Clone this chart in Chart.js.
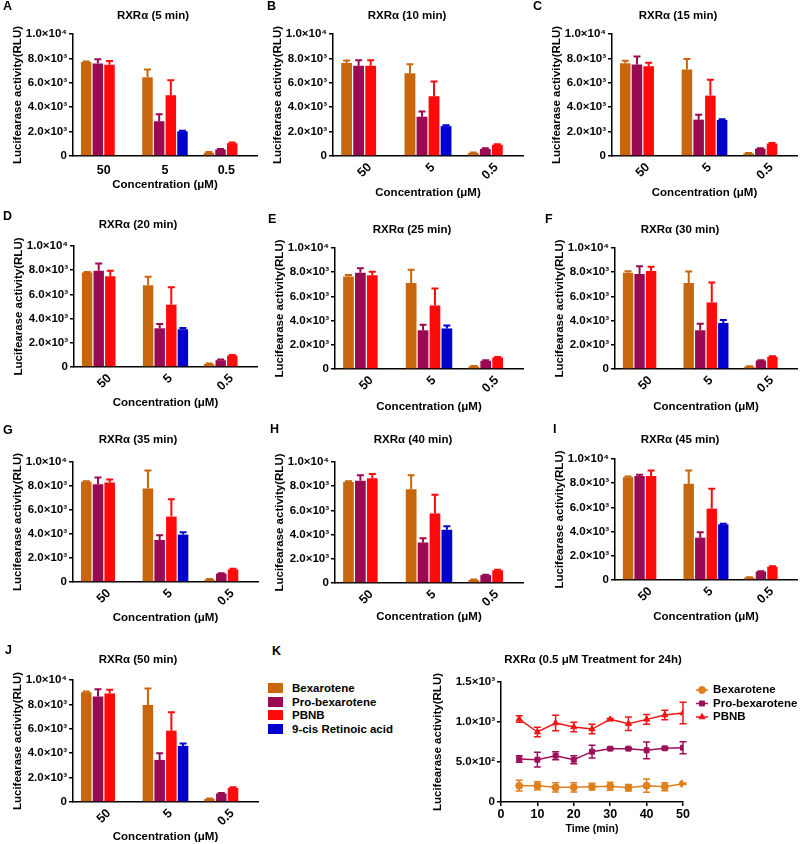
<!DOCTYPE html>
<html>
<head>
<meta charset="utf-8">
<script src="https://cdn.jsdelivr.net/npm/chart.js@4.4.0/dist/chart.umd.min.js"></script>
<style>
  body { margin: 0; background: #fff; width: 800px; height: 844px; position: relative; overflow: hidden; }
  canvas { position: absolute; }
  #barLegend { position: absolute; left: 268px; top: 682px; font: bold 11.5px "Liberation Sans", Arial, sans-serif; color: #000; }
  #barLegend div { height: 13.7px; line-height: 13.7px; white-space: nowrap; }
  #barLegend span { display: inline-block; width: 15px; height: 10px; margin-right: 9px; vertical-align: -1px; }
  #letterK { position: absolute; left: 272px; top: 644px; font: bold 12.5px "Liberation Sans", Arial, sans-serif; }
</style>
</head>
<body>
<div id="letterK">K</div>
<div id="barLegend"></div>
<script>
// ---- data ----
const panelLetters = ['A', 'B', 'C', 'D', 'E', 'F', 'G', 'H', 'I', 'J']
const panelMinutes = [5, 10, 15, 20, 25, 30, 35, 40, 45, 50]
const concentrations = ['50', '5', '0.5']
const seriesNames = ['Bexarotene', 'Pro-bexarotene', 'PBNB', '9-cis Retinoic acid']
const seriesColors = ['#C8660E', '#990A52', '#FF0A0A', '#0000CC']

// one row per panel (5 ... 50 min), columns = 50, 5, 0.5 uM
const bexMean = [
  [7700, 6450, 260], [7620, 6780, 250], [7600, 7100, 220], [7800, 6750, 250], [7650, 7100, 220],
  [7950, 7100, 200], [8350, 7800, 200], [8350, 7750, 250], [8500, 7950, 200], [9000, 7950, 250]
]
const bexErr = [
  [50, 650, 60], [200, 750, 30], [200, 850, 30], [60, 700, 40], [120, 1100, 30],
  [120, 950, 30], [50, 1500, 40], [50, 1150, 30], [50, 1100, 30], [50, 1350, 30]
]
const proMean = [
  [7580, 2850, 540], [7400, 3220, 580], [7500, 2980, 600], [7950, 3200, 560], [7950, 3200, 680],
  [7850, 3200, 700], [8150, 3500, 700], [8450, 3350, 650], [8600, 3500, 700], [8650, 3450, 700]
]
const proErr = [
  [350, 580, 40], [450, 430, 50], [650, 400, 40], [600, 350, 50], [380, 450, 40],
  [650, 550, 30], [550, 400, 30], [450, 350, 40], [100, 450, 30], [600, 550, 40]
]
const pbnbMean = [
  [7480, 4980, 1050], [7400, 4900, 920], [7350, 4950, 1020], [7500, 5150, 950], [7750, 5250, 950],
  [8100, 5500, 1020], [8300, 5450, 1050], [8650, 5750, 1050], [8600, 5900, 1100], [8900, 5850, 1150]
]
const pbnbErr = [
  [300, 1230, 50], [450, 1200, 40], [300, 1300, 40], [450, 1450, 40], [280, 1400, 40],
  [350, 1650, 30], [250, 1450, 50], [350, 1550, 40], [450, 1650, 40], [300, 1500, 50]
]
const retMean = [
  [null, 2020, null], [null, 2450, null], [null, 2950, null], [null, 3120, null], [null, 3350, null],
  [null, 3800, null], [null, 3950, null], [null, 4400, null], [null, 4600, null], [null, 4600, null]
]
const retErr = [
  [0, 40, 0], [0, 80, 0], [0, 60, 0], [0, 100, 0], [0, 250, 0],
  [0, 250, 0], [0, 200, 0], [0, 300, 0], [0, 50, 0], [0, 200, 0]
]
const barTickLabels = ['0', '2.0×10³', '4.0×10³', '6.0×10³', '8.0×10³', '1.0×10⁴']

// panel K: 0.5 uM over time
const timeMin = [5, 10, 15, 20, 25, 30, 35, 40, 45, 50]
const kBexMean = [204, 204, 183, 183, 192, 196, 179, 204, 192, 229]
const kBexErr = [67, 50, 58, 58, 42, 50, 40, 83, 50, 10]
const kProMean = [537, 529, 579, 529, 629, 667, 667, 646, 671, 679]
const kProErr = [40, 92, 50, 50, 80, 10, 10, 104, 15, 75]
const kPbnbMean = [1037, 875, 987, 937, 912, 1033, 979, 1033, 1087, 1112]
const kPbnbErr = [40, 60, 96, 60, 60, 10, 85, 60, 60, 135]
const kNames = ['Bexarotene', 'Pro-bexarotene', 'PBNB']
const kColors = ['#E07F1C', '#9E0F5A', '#F21414']
const kPointStyles = ['circle', 'rect', 'triangle']
const lineTickLabels = ['0', '5.0×10²', '1.0×10³', '1.5×10³']

// ---- layout (pixel boxes of each panel) ----
const barBoxes = [
  {x: 0, y: 0, w: 265, h: 205, l: 73, r: 257, t: 34, b: 156, xt: 185, letter: [3, 7], title: [153, 16], rot: 0},
  {x: 265, y: 0, w: 265, h: 205, l: 68, r: 258, t: 34, b: 156, xt: 193, letter: [2, 7], title: [142, 16], rot: 45},
  {x: 530, y: 0, w: 270, h: 205, l: 82, r: 267, t: 34, b: 156, xt: 193, letter: [3, 7], title: [148, 16], rot: 45},
  {x: 0, y: 205, w: 265, h: 210, l: 74, r: 257, t: 41, b: 162, xt: 198, letter: [3, 12], title: [138, 20], rot: 45},
  {x: 265, y: 205, w: 265, h: 210, l: 70, r: 258, t: 43, b: 164, xt: 202, letter: [3, 15], title: [147, 25], rot: 45},
  {x: 530, y: 205, w: 270, h: 210, l: 85, r: 267, t: 43, b: 164, xt: 202, letter: [15, 15], title: [150, 25], rot: 45},
  {x: 0, y: 415, w: 265, h: 210, l: 73, r: 258, t: 47, b: 167, xt: 203, letter: [3, 16], title: [138, 25], rot: 45},
  {x: 265, y: 415, w: 265, h: 210, l: 70, r: 258, t: 47, b: 168, xt: 202, letter: [5, 15], title: [148, 25], rot: 45},
  {x: 530, y: 415, w: 270, h: 210, l: 85, r: 267, t: 44, b: 165, xt: 202, letter: [23, 15], title: [150, 25], rot: 45},
  {x: 0, y: 625, w: 265, h: 219, l: 73, r: 258, t: 55, b: 177, xt: 212, letter: [5, 26], title: [138, 35], rot: 45}
]
const kBox = {x: 420, y: 625, w: 380, h: 219, l: 81, r: 263, t: 57, b: 177, xt: 204, ytx: 18, title: [173, 35]}

const FONT = '"Liberation Sans", Arial, sans-serif'

const makeCanvas = (box) => {
  const c = document.createElement('canvas')
  c.width = box.w
  c.height = box.h
  c.style.left = box.x + 'px'
  c.style.top = box.y + 'px'
  document.body.appendChild(c)
  return c
}

// upper error bars for bars, +/- error bars for the line chart
const errorBars = {
  id: 'errorBars',
  afterDatasetsDraw(chart, args, opts) {
    const ctx = chart.ctx
    const yScale = chart.scales.y
    chart.data.datasets.forEach((ds, di) => {
      const meta = chart.getDatasetMeta(di)
      meta.data.forEach((el, i) => {
        const raw = ds.data[i]
        const v = raw && typeof raw === 'object' ? raw.y : raw
        const e = ds.errors[i]
        if (v == null || !e) return
        const x = el.x
        const top = yScale.getPixelForValue(v + e)
        const bottom = opts.both ? yScale.getPixelForValue(v - e) : yScale.getPixelForValue(v)
        ctx.save()
        ctx.strokeStyle = ds.borderColor || ds.backgroundColor
        ctx.lineWidth = opts.width
        ctx.beginPath()
        ctx.moveTo(x, bottom)
        ctx.lineTo(x, top)
        ctx.moveTo(x - opts.cap, top)
        ctx.lineTo(x + opts.cap, top)
        if (opts.both) {
          ctx.moveTo(x - opts.cap, bottom)
          ctx.lineTo(x + opts.cap, bottom)
        }
        ctx.stroke()
        ctx.restore()
      })
    })
  }
}

const panelText = {
  id: 'panelText',
  afterDraw(chart, args, opts) {
    const ctx = chart.ctx
    ctx.save()
    ctx.fillStyle = '#000'
    ctx.textBaseline = 'middle'
    if (opts.letter) {
      ctx.font = 'bold 12.5px ' + FONT
      ctx.textAlign = 'left'
      ctx.fillText(opts.letter, opts.letterPos[0], opts.letterPos[1])
    }
    ctx.font = 'bold 11.5px ' + FONT
    ctx.textAlign = 'center'
    ctx.fillText(opts.title, opts.titlePos[0], opts.titlePos[1])
    ctx.restore()
  }
}

const axisTitleHalf = 11.5 * 1.2 / 2

const barMeans = [bexMean, proMean, pbnbMean, retMean]
const barErrs = [bexErr, proErr, pbnbErr, retErr]

const generateBarPanel = (idx) => {
  const box = barBoxes[idx]
  const xh = box.xt - box.b + axisTitleHalf
  new Chart(makeCanvas(box), {
    type: 'bar',
    data: {
      labels: concentrations,
      datasets: seriesNames.map((name, s) => ({
        label: name,
        data: barMeans[s][idx],
        errors: barErrs[s][idx],
        backgroundColor: seriesColors[s],
        borderWidth: 0,
        barPercentage: 0.9,
        categoryPercentage: 0.76
      }))
    },
    options: {
      responsive: false,
      animation: false,
      devicePixelRatio: 1,
      layout: {padding: {left: 0, top: box.t, right: box.w - box.r, bottom: Math.max(box.h - box.b - xh, 0)}},
      plugins: {
        legend: {display: false},
        tooltip: {enabled: false},
        errorBars: {cap: 3.5, width: 2, both: false},
        panelText: {
          letter: panelLetters[idx], letterPos: box.letter,
          title: 'RXRα (' + panelMinutes[idx] + ' min)', titlePos: box.title
        }
      },
      scales: {
        x: {
          grid: {display: false, drawTicks: false},
          border: {display: true, color: '#000', width: 1.5},
          ticks: {
            color: '#000', font: {family: FONT, size: 12.5, weight: 'bold'},
            minRotation: box.rot, maxRotation: box.rot, autoSkip: false,
            padding: box.rot ? 4 : 7, labelOffset: box.rot ? 5 : 0
          },
          title: {display: true, text: 'Concentration (μM)', color: '#000', font: {family: FONT, size: 11.5, weight: 'bold'}, padding: 0},
          afterFit: (s) => { s.height = xh }
        },
        y: {
          min: 0,
          max: 10000,
          grid: {drawOnChartArea: false, color: '#000', lineWidth: 1.5, tickLength: 4},
          border: {display: true, color: '#000', width: 1.5},
          ticks: {
            stepSize: 2000, color: '#000', padding: 2,
            font: {family: FONT, size: 11.5, weight: 'bold'},
            callback: (v) => barTickLabels[Math.round(v / 2000)]
          },
          title: {
            display: true, text: 'Lucifearase activity(RLU)', color: '#000',
            font: {family: FONT, size: 11.5, weight: 'bold'},
            padding: {top: box.l - 55 - axisTitleHalf, bottom: 0}
          },
          afterFit: (s) => { s.width = box.l }
        }
      }
    },
    plugins: [errorBars, panelText]
  })
}

panelLetters.forEach((_, i) => generateBarPanel(i))

// legend for the bar panels
const legendDiv = document.getElementById('barLegend')
seriesNames.forEach((name, s) => {
  const row = document.createElement('div')
  const sw = document.createElement('span')
  sw.style.background = seriesColors[s]
  row.appendChild(sw)
  row.appendChild(document.createTextNode(name))
  legendDiv.appendChild(row)
})

// legend drawn beside panel K
const kLegend = {
  id: 'kLegend',
  afterDraw(chart, args, opts) {
    const ctx = chart.ctx
    chart.data.datasets.forEach((ds, i) => {
      const y = opts.y0 + i * opts.dy
      ctx.save()
      ctx.strokeStyle = ds.borderColor
      ctx.fillStyle = ds.backgroundColor
      ctx.lineWidth = 1.5
      ctx.beginPath()
      ctx.moveTo(opts.x0, y)
      ctx.lineTo(opts.x1, y)
      ctx.stroke()
      ctx.lineWidth = 1
      Chart.helpers.drawPoint(ctx, {pointStyle: ds.pointStyle, radius: 3.5, borderWidth: 1}, (opts.x0 + opts.x1) / 2, y)
      ctx.fillStyle = '#000'
      ctx.font = 'bold 11.5px ' + FONT
      ctx.textBaseline = 'middle'
      ctx.textAlign = 'left'
      ctx.fillText(ds.label, opts.textX, y)
      ctx.restore()
    })
  }
}

const kMeans = [kBexMean, kProMean, kPbnbMean]
const kErrs = [kBexErr, kProErr, kPbnbErr]
const kxh = kBox.xt - kBox.b + 10.5 * 1.2 / 2

new Chart(makeCanvas(kBox), {
  type: 'line',
  data: {
    datasets: kNames.map((name, s) => ({
      label: name,
      data: timeMin.map((t, i) => ({x: t, y: kMeans[s][i]})),
      errors: kErrs[s],
      borderColor: kColors[s],
      backgroundColor: kColors[s],
      pointStyle: kPointStyles[s],
      pointRadius: 3.5,
      pointBorderWidth: 1,
      borderWidth: 1.5,
      tension: 0
    }))
  },
  options: {
    responsive: false,
    animation: false,
    devicePixelRatio: 1,
    layout: {padding: {left: 0, top: kBox.t, right: kBox.w - kBox.r, bottom: Math.max(kBox.h - kBox.b - kxh, 0)}},
    plugins: {
      legend: {display: false},
      tooltip: {enabled: false},
      errorBars: {cap: 3.5, width: 1.5, both: true},
      panelText: {title: 'RXRα (0.5 μM Treatment for 24h)', titlePos: kBox.title},
      kLegend: {x0: 276, x1: 288, textX: 293, y0: 65, dy: 13.5}
    },
    scales: {
      x: {
        type: 'linear', min: 0, max: 50,
        grid: {drawOnChartArea: false, color: '#000', lineWidth: 1.5, tickLength: 4},
        border: {display: true, color: '#000', width: 1.5},
        ticks: {stepSize: 10, color: '#000', padding: 1, font: {family: FONT, size: 12.5, weight: 'bold'}},
        title: {display: true, text: 'Time (min)', color: '#000', font: {family: FONT, size: 10.5, weight: 'bold'}, padding: 0},
        afterFit: (s) => { s.height = kxh }
      },
      y: {
        min: 0, max: 1500,
        grid: {drawOnChartArea: false, color: '#000', lineWidth: 1.5, tickLength: 4},
        border: {display: true, color: '#000', width: 1.5},
        ticks: {
          stepSize: 500, color: '#000', padding: 2,
          font: {family: FONT, size: 11.5, weight: 'bold'},
          callback: (v) => lineTickLabels[Math.round(v / 500)]
        },
        title: {
          display: true, text: 'Lucifearase activity(RLU)', color: '#000',
          font: {family: FONT, size: 11.5, weight: 'bold'},
          padding: {top: kBox.ytx - axisTitleHalf, bottom: 0}
        },
        afterFit: (s) => { s.width = kBox.l }
      }
    }
  },
  plugins: [errorBars, panelText, kLegend]
})
</script>
</body>
</html>
